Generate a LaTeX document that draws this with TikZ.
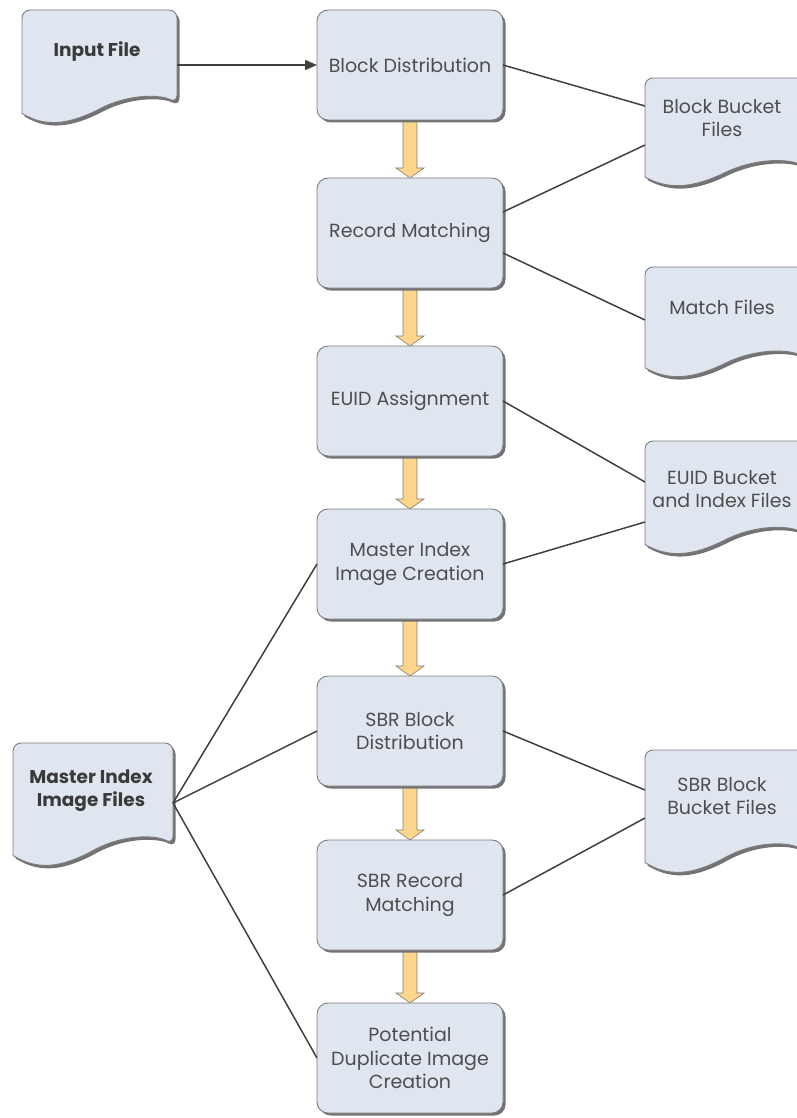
\documentclass[tikz,border=0pt]{standalone}
\usepackage{fontspec}
\setmainfont{Poppins}
\usetikzlibrary{calc,shadows,arrows.meta,backgrounds}
\definecolor{boxfill}{RGB}{223,230,239}
\definecolor{boxline}{RGB}{125,125,125}
\definecolor{shadowc}{RGB}{115,115,115}
\definecolor{txt}{RGB}{78,78,78}
\definecolor{yell}{RGB}{252,214,138}
\definecolor{conn}{RGB}{64,64,64}
\tikzset{
  proc/.style={draw=boxline, line width=0.9pt, fill=boxfill, rounded corners=11pt,
    minimum width=186pt, minimum height=110pt, align=center, text=txt, outer sep=0pt,
    font=\fontsize{19}{23.5}\selectfont,
    drop shadow={shadow xshift=2.5pt, shadow yshift=-2.5pt, fill=shadowc, opacity=1}},
  docarea/.style={anchor=north west, inner sep=0pt, outer sep=0pt},
  doctext/.style={align=center, text=txt, font=\fontsize{19}{23}\selectfont},
  docbold/.style={align=center, text=txt!75!black, font=\fontsize{18.5}{23}\selectfont\bfseries},
  docline/.style={draw=boxline, line width=0.9pt, fill=boxfill},
  conline/.style={draw=conn, line width=1.5pt},
  yarrow/.style={draw=boxline, line width=0.6pt, fill=yell}
}
\newcommand\docshape[3]{%
  \begin{scope}[shift={(#1.north west)}]
    \fill[shadowc, xshift=2.5pt, yshift=-3pt, rounded corners=8pt]
      (0,0.9*#3) -- (0,0) -- (#2,0) -- (#2,0.81*#3) [sharp corners]
      .. controls (0.9*#2,0.74*#3) and (0.7*#2,0.72*#3) .. (0.5*#2,0.86*#3)
      .. controls (0.3*#2,1.0*#3) and (0.15*#2,1.02*#3) .. (0,0.9*#3) -- cycle;
    \path[docline, rounded corners=8pt]
      (0,0.9*#3) -- (0,0) -- (#2,0) -- (#2,0.81*#3) [sharp corners]
      .. controls (0.9*#2,0.74*#3) and (0.7*#2,0.72*#3) .. (0.5*#2,0.86*#3)
      .. controls (0.3*#2,1.0*#3) and (0.15*#2,1.02*#3) .. (0,0.9*#3) -- cycle;
  \end{scope}}
\newcommand\blockarrow[2]{%
  \path[yarrow] let \p1=(#1.south), \p2=(#2.north) in
    (\x1-7pt,\y1) -- (\x1-7pt,\y2+10pt) -- (\x1-14pt,\y2+10pt) -- (\x1,\y2)
    -- (\x1+14pt,\y2+10pt) -- (\x1+7pt,\y2+10pt) -- (\x1+7pt,\y1) -- cycle;}
\begin{document}
\begin{tikzpicture}[x=1pt,y=-1pt]
\useasboundingbox (0,0) rectangle (796,1118);
% process boxes
\node[proc] (bd)  at (410,65)   {Block Distribution};
\node[proc] (rm)  at (410,233)  {Record Matching};
\node[proc] (ea)  at (410,401)  {EUID Assignment};
\node[proc] (mic) at (410,564)  {Master Index\\Image Creation};
\node[proc] (sbd) at (410,731)  {SBR Block\\Distribution};
\node[proc] (srm) at (410,895)  {SBR Record\\Matching};
\node[proc] (pdc) at (410,1058) {Potential\\Duplicate Image\\Creation};
% block arrows
\begin{scope}[on background layer]
\blockarrow{bd}{rm}
\blockarrow{rm}{ea}
\blockarrow{ea}{mic}
\blockarrow{mic}{sbd}
\blockarrow{sbd}{srm}
\blockarrow{srm}{pdc}
\end{scope}
% document areas
\node[docarea, minimum width=155pt, minimum height=115pt] (inp) at (22,10) {};
\node[docarea, minimum width=160pt, minimum height=110pt] (bb) at (645,78) {};
\node[docarea, minimum width=160pt, minimum height=112pt] (mf) at (645,267) {};
\node[docarea, minimum width=160pt, minimum height=115pt] (eb) at (645,441) {};
\node[docarea, minimum width=160pt, minimum height=125pt] (sb) at (645,750) {};
\node[docarea, minimum width=160pt, minimum height=125pt] (mif) at (13,743) {};
\docshape{inp}{155}{115}
\docshape{bb}{160}{110}
\docshape{mf}{160}{112}
\docshape{eb}{160}{115}
\docshape{sb}{160}{125}
\docshape{mif}{160}{125}
\node[docbold] (inpT) at (97,52) {Input File};
\node[doctext] (bbT) at (722,118) {Block Bucket\\Files};
\node[doctext] (mfT) at (722,307) {Match Files};
\node[doctext] (ebT) at (722,489) {EUID Bucket\\and Index Files};
\node[doctext] (sbT) at (722,796) {SBR Block\\Bucket Files};
\node[docbold] (mifT) at (91,791) {Master Index\\Image Files};
% connectors
\draw[conline, -{Stealth[length=12pt,width=10pt,inset=0pt]}] (inp.east |- bd.west) -- (bd.west);
\draw[conline] (bd.east) -- ($(bb.north west)+(0,28)$);
\draw[conline] ($(rm.east)+(0,-21)$) -- ($(bb.north west)+(0,67)$);
\draw[conline] ($(rm.east)+(0,20)$) -- ($(mf.north west)+(0,53)$);
\draw[conline] (ea.east) -- ($(eb.north west)+(0,41)$);
\draw[conline] (mic.east) -- ($(eb.north west)+(0,81)$);
\draw[conline] (sbd.east) -- ($(sb.north west)+(0,40)$);
\draw[conline] (srm.east) -- ($(sb.north west)+(0,68)$);
\coordinate (mifp) at ($(mif.north east)+(0,60)$);
\draw[conline] (mifp) -- (mic.west);
\draw[conline] (mifp) -- (sbd.west);
\draw[conline] (mifp) -- (pdc.west);
\end{tikzpicture}
\end{document}
